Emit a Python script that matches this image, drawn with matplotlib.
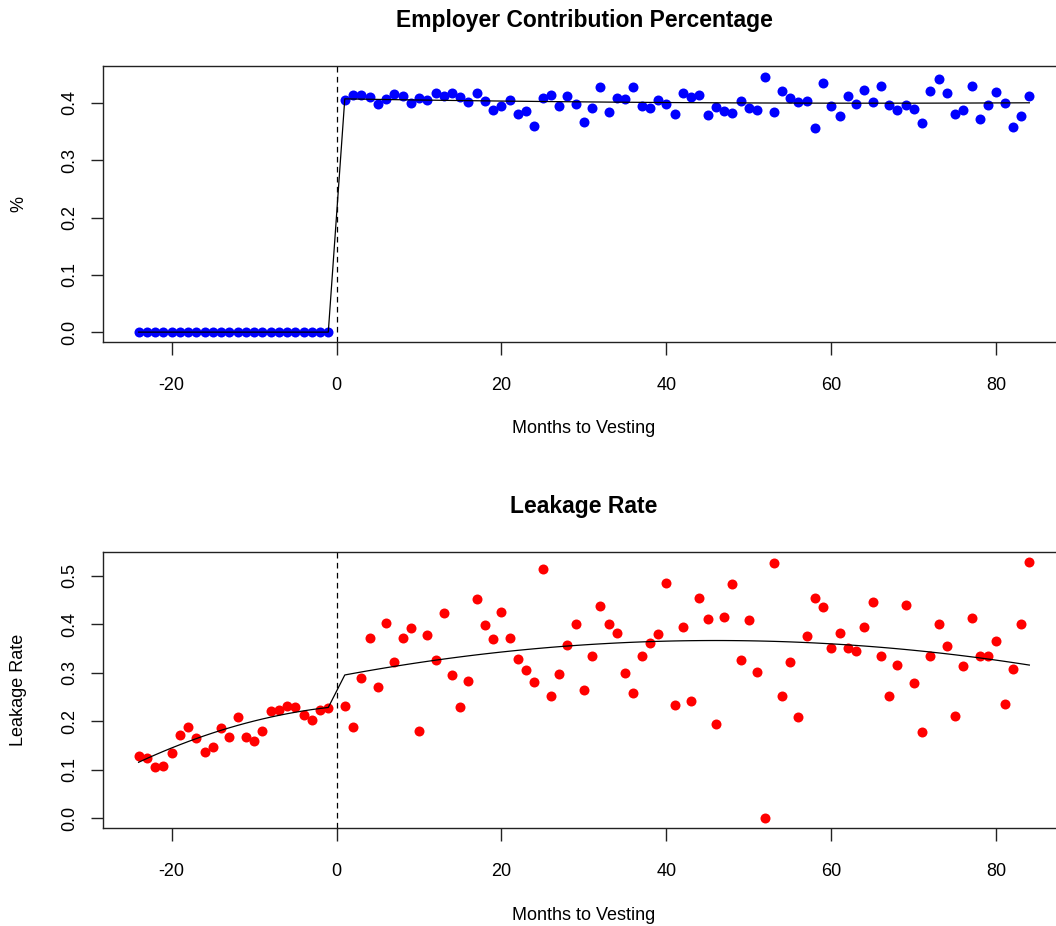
import numpy as np
import matplotlib
matplotlib.use("Agg")
import matplotlib.pyplot as plt

# months relative to vesting (no observation at month 0)
months_pre = list(range(-24, 0))
months_post = list(range(1, 85))

# employer contribution share by month
employer_pre = [0.0] * 24
employer_post = [0.405, 0.413, 0.414, 0.411, 0.398, 0.407, 0.415, 0.412, 0.400, 0.409,
                 0.405, 0.417, 0.412, 0.417, 0.410, 0.402, 0.417, 0.403, 0.388, 0.395,
                 0.405, 0.381, 0.385, 0.360, 0.409, 0.413, 0.394, 0.412, 0.398, 0.366,
                 0.391, 0.428, 0.384, 0.408, 0.406, 0.428, 0.394, 0.391, 0.405, 0.398,
                 0.380, 0.418, 0.411, 0.414, 0.378, 0.392, 0.385, 0.382, 0.403, 0.391,
                 0.387, 0.446, 0.384, 0.421, 0.408, 0.402, 0.403, 0.357, 0.435, 0.394,
                 0.377, 0.412, 0.398, 0.423, 0.402, 0.430, 0.397, 0.388, 0.396, 0.390,
                 0.365, 0.421, 0.441, 0.417, 0.380, 0.388, 0.430, 0.372, 0.397, 0.419,
                 0.399, 0.358, 0.377, 0.412]

# leakage rate by month
leakage_pre = [0.128, 0.123, 0.106, 0.108, 0.134, 0.171, 0.188, 0.166, 0.137, 0.147,
               0.186, 0.168, 0.208, 0.168, 0.159, 0.179, 0.221, 0.223, 0.232, 0.230,
               0.212, 0.203, 0.222, 0.226]
leakage_post = [0.232, 0.188, 0.288, 0.371, 0.271, 0.403, 0.321, 0.372, 0.391, 0.179,
                0.378, 0.325, 0.423, 0.294, 0.230, 0.282, 0.451, 0.398, 0.370, 0.425,
                0.371, 0.328, 0.306, 0.280, 0.514, 0.251, 0.298, 0.357, 0.401, 0.264,
                0.334, 0.437, 0.401, 0.381, 0.300, 0.258, 0.334, 0.361, 0.379, 0.485,
                0.234, 0.394, 0.242, 0.453, 0.410, 0.193, 0.415, 0.482, 0.326, 0.409,
                0.301, 0.000, 0.526, 0.251, 0.321, 0.209, 0.375, 0.453, 0.436, 0.350,
                0.382, 0.351, 0.344, 0.394, 0.446, 0.334, 0.251, 0.316, 0.439, 0.278,
                0.177, 0.334, 0.401, 0.354, 0.211, 0.313, 0.413, 0.335, 0.335, 0.365,
                0.236, 0.308, 0.401, 0.528]

# quadratic fits from the regression, each side of the cutoff (x^2, x, 1)
employer_fit_pre = [0.0, 0.0, 0.0]
employer_fit_post = [1.83e-6, -2.379e-4, 0.40723]
leakage_fit_pre = [-1.291e-4, 0.001685, 0.22981]
leakage_fit_post = [-3.506e-5, 0.003226, 0.29181]

x_ticks = [-20, 0, 20, 40, 60, 80]

plt.rcParams['font.family'] = ['Liberation Sans', 'DejaVu Sans']
plt.rcParams['axes.unicode_minus'] = False


def r_limits(v):
    lo, hi = min(v), max(v)
    pad = 0.04 * (hi - lo)
    return lo - pad, hi + pad


def rd_panel(ax, pre, post, fit_pre, fit_post, color, title, ylabel, yticks):
    x = months_pre + months_post
    y = pre + post
    ax.plot(x, y, 'o', color=color, markersize=7.2, markeredgewidth=0, zorder=3)
    fit = list(np.polyval(fit_pre, months_pre)) + list(np.polyval(fit_post, months_post))
    ax.plot(x, fit, color='black', lw=0.9, zorder=4)
    ax.axvline(0, color='black', lw=0.9, ls=(0, (4.5, 3.5)), zorder=2)

    ax.set_xlim(*r_limits(x))
    ax.set_ylim(*r_limits(y))
    ax.set_xticks(x_ticks)
    ax.set_yticks(yticks)
    ax.set_yticklabels(['%.1f' % t for t in yticks])

    for s in ax.spines.values():
        s.set_linewidth(1.0)
        s.set_color('#222222')
    ax.tick_params(axis='both', direction='out', length=9, width=1.0,
                   labelsize=13, color='#222222')
    ax.tick_params(axis='x', pad=16)
    ax.tick_params(axis='y', pad=9, labelrotation=90)
    for lab in ax.get_yticklabels():
        lab.set_va('center')

    ax.set_title(title, fontsize=16.5, fontweight='bold', pad=28)
    ax.set_xlabel('Months to Vesting', fontsize=13)
    ax.xaxis.set_label_coords(0.5, -0.283)
    ax.set_ylabel(ylabel, fontsize=13)
    ax.yaxis.set_label_coords(-0.079, 0.5)


fig = plt.figure(figsize=(10.56, 9.26), dpi=100)
ax1 = fig.add_axes([0.0975, 0.6303, 0.911, 0.2981])
ax2 = fig.add_axes([0.0975, 0.1055, 0.911, 0.2987])

rd_panel(ax1, employer_pre, employer_post, employer_fit_pre, employer_fit_post, 'blue',
         'Employer Contribution Percentage', '%', [0.0, 0.1, 0.2, 0.3, 0.4])
rd_panel(ax2, leakage_pre, leakage_post, leakage_fit_pre, leakage_fit_post, 'red',
         'Leakage Rate', 'Leakage Rate', [0.0, 0.1, 0.2, 0.3, 0.4, 0.5])

fig.savefig('out.png', dpi=100)
